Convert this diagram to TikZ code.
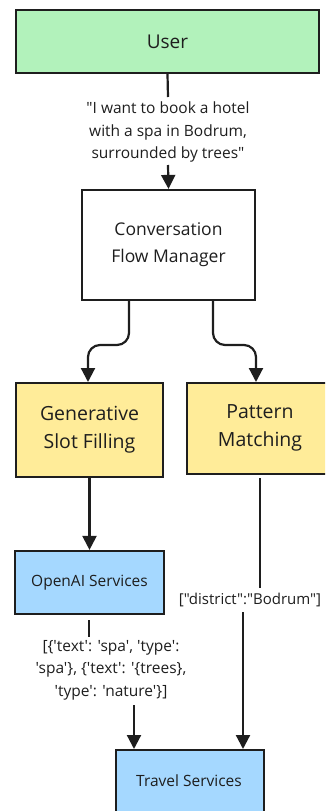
\documentclass[tikz,border=0pt]{standalone}
\usepackage{fontspec}
\setmainfont{Open Sans}[Ligatures=TeXOff]
\usetikzlibrary{arrows.meta}
\definecolor{ink}{HTML}{1E1E1E}
\definecolor{ugreen}{HTML}{B2F2BB}
\definecolor{uyellow}{HTML}{FFEC99}
\definecolor{ublue}{HTML}{A5D8FF}
\tikzset{
  box/.style={draw=ink, line width=2.2pt, inner sep=0pt, align=center, text=ink},
  conn/.style={draw=ink, line width=2.2pt},
  arr/.style={conn, -{Triangle[width=14pt,length=14pt]}},
  lbl/.style={font=\fontsize{15.5}{22.5}\selectfont, text=ink, align=center, inner sep=1pt}
}
\begin{document}
\begin{tikzpicture}[x=1pt,y=-1pt]
\useasboundingbox (0,0) rectangle (325,811);
\clip (0,0) rectangle (325,811);
% boxes
\node[box, fill=ugreen, minimum width=303pt, minimum height=63pt, font=\fontsize{19}{24}\selectfont] (user) at (167.5,41.5) {User};
\node[box, fill=white, minimum width=173pt, minimum height=110pt, font=\fontsize{17.5}{27}\selectfont] (cfm) at (168.5,245) {Conversation\\Flow Manager};
\node[box, fill=uyellow, minimum width=147pt, minimum height=94pt, font=\fontsize{19.5}{28}\selectfont] (gsf) at (89.5,430) {Generative\\Slot Filling};
\node[box, fill=uyellow, minimum width=160pt, minimum height=91pt, anchor=north west] (pm) at (186,382) {};
\node[font=\fontsize{19.5}{28}\selectfont, text=ink, align=center] (pmt) at (260,427.5) {Pattern\\Matching};
\node[box, fill=ublue, minimum width=149pt, minimum height=63pt, font=\fontsize{15.5}{20}\selectfont] (oai) at (89.5,582.5) {OpenAI Services};
\node[box, fill=ublue, minimum width=148pt, minimum height=80pt, anchor=north west] (ts) at (115,749) {};
\node[font=\fontsize{15.5}{20}\selectfont, text=ink] (tst) at (189,781) {Travel Services};
% labels
\node[lbl] (l1) at (168,132) {"I want to book a hotel\\with a spa in Bodrum,\\surrounded by trees"};
\node[lbl, font=\fontsize{15}{22}\selectfont] (l2) at (250,600) {["district":"Bodrum"]};
\node[lbl] (l3) at (111,670) {[\{'text': 'spa', 'type':\\'spa'\}, \{'text': '\{trees\},\\'type': 'nature'\}]};
% connectors
\draw[conn] (user.south) -- (168,97);
\coordinate (a1) at (168,165);
\draw[arr] (a1) -- (cfm.north);
\draw[arr, rounded corners=12pt] (129,300) -- (129,345) -- (88,345) -- (88,382);
\draw[arr, rounded corners=12pt] (213,300) -- (213,345) -- (256,345) -- (256,382);
\draw[arr] (gsf.south) -- (oai.north);
\draw[conn] (260,478) -- (260,588);
\coordinate (b1) at (243,612);
\draw[arr] (b1) -- (243,749);
\draw[conn] (89,620) -- (89,637);
\coordinate (c1) at (134,705);
\draw[arr] (c1) -- (134,749);
\end{tikzpicture}
\end{document}
